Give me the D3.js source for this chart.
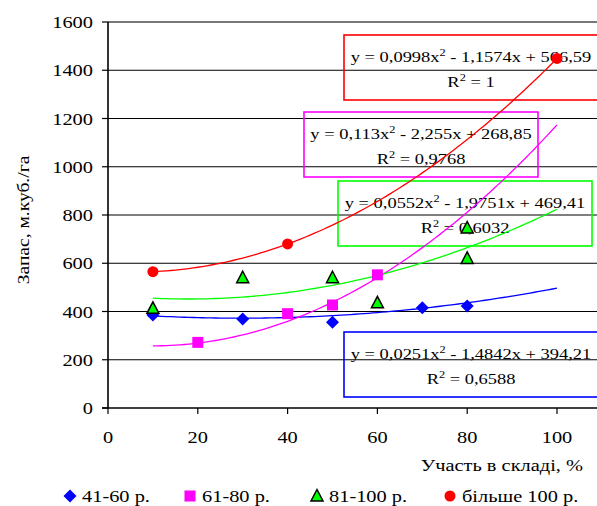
<!DOCTYPE html>
<html>
<head>
<meta charset="utf-8">
<script src="https://cdn.jsdelivr.net/npm/d3@7"></script>
<style>
  html, body { margin: 0; padding: 0; background: #fff; }
</style>
</head>
<body>
<svg id="chart" width="597" height="506" style="font-family: 'Liberation Serif', 'DejaVu Serif', serif;"></svg>
<script>
// Series: share in composition (%) vs growing stock (m³/ha), by age group
const seriesNames = ["41-60 р.", "61-80 р.", "81-100 р.", "більше 100 р."];
const seriesColors = ["#0000FF", "#FF00FF", "#00FF00", "#FF0000"];
const seriesShapes = ["diamond", "square", "triangle", "circle"];

const age41_60 = [[10, 385], [30, 369], [50, 355], [70, 416], [80, 423]];
const age61_80 = [[20, 272], [40, 391], [50, 427], [60, 552]];
const age81_100 = [[10, 413], [30, 540], [50, 540], [60, 436], [80, 620], [80, 746]];
const age100plus = [[10, 565], [40, 680], [100, 1449]];

// Quadratic trendline coefficients [a, b, c] for y = a·x² + b·x + c
const trendCoefs = [
  [0.0251, -1.4842, 394.21],
  [0.113, -2.255, 268.85],
  [0.0552, -1.9751, 469.41],
  [0.0998, -1.1574, 566.59]
];
const trendLabels = [
  ["0,0251", "1,4842", "394,21", "0,6588"],
  ["0,113", "2,255", "268,85", "0,9768"],
  ["0,0552", "1,9751", "469,41", "0,6032"],
  ["0,0998", "1,1574", "566,59", "1"]
];
const trendRange = [10, 100];

const xTicks = [0, 20, 40, 60, 80, 100];
const yTicks = [0, 200, 400, 600, 800, 1000, 1200, 1400, 1600];
const xTitle = "Участь в складі, %";
const yTitle = "Запас, м.куб./га";

const FONT = "'Liberation Serif', 'DejaVu Serif', serif";
const svg = d3.select("#chart");
const X0 = 108, X100 = 557, RIGHT = 597;
const x = d3.scaleLinear().domain([0, 100]).range([X0, X100]);
const y = d3.scaleLinear().domain([0, 1600]).range([408, 22]);
const SX = 1.2; // horizontal text stretch

function stext(g, tx, ty, str, size, anchor) {
  return g.append("text")
    .attr("transform", `translate(${tx},${ty}) scale(${SX},1)`)
    .attr("text-anchor", anchor || "start")
    .style("font-family", FONT)
    .style("font-size", size + "px")
    .text(str);
}

// gridlines
svg.append("g").selectAll("line").data(yTicks.filter(d => d > 0)).join("line")
  .attr("x1", X0).attr("x2", RIGHT)
  .attr("y1", d => y(d)).attr("y2", d => y(d))
  .attr("stroke", d => d === 1600 ? "#777" : "#000")
  .attr("stroke-width", d => d === 1600 ? 2 : 1.2);

// axes
const axG = svg.append("g");
axG.append("line").attr("x1", X0).attr("x2", X0).attr("y1", y(1600)).attr("y2", y(0))
  .attr("stroke", "#000").attr("stroke-width", 1.6);
axG.append("line").attr("x1", X0 - 6).attr("x2", RIGHT).attr("y1", y(0)).attr("y2", y(0))
  .attr("stroke", "#000").attr("stroke-width", 1.6);
axG.selectAll(".yt").data(yTicks).join("line")
  .attr("x1", X0 - 6).attr("x2", X0).attr("y1", d => y(d)).attr("y2", d => y(d))
  .attr("stroke", "#000").attr("stroke-width", 1.2);
axG.selectAll(".xt").data(xTicks).join("line")
  .attr("x1", d => x(d)).attr("x2", d => x(d)).attr("y1", y(0)).attr("y2", y(0) + 6)
  .attr("stroke", "#000").attr("stroke-width", 1.2);
yTicks.forEach(d => stext(axG, 93, y(d) + 6, String(d), 17, "end"));
xTicks.forEach(d => stext(axG, x(d), 443, String(d), 17, "middle"));

// axis titles
stext(svg, 583, 471, xTitle, 17, "end");
svg.append("text")
  .attr("transform", `translate(29,220) rotate(-90) scale(1.15,1)`)
  .attr("text-anchor", "middle").style("font-family", FONT).style("font-size", "17px").text(yTitle);

// trendline labels
const labelBoxes = [
  { x0: 344, y0: 332, x1: 604, y1: 397, cx: 471 },
  { x0: 304, y0: 112, x1: 538, y1: 177, cx: 421 },
  { x0: 338, y0: 181, x1: 592, y1: 246, cx: 465 },
  { x0: 344, y0: 35, x1: 604, y1: 100, cx: 471 }
];
const labG = svg.append("g");
labelBoxes.forEach((b, i) => {
  labG.append("rect").attr("x", b.x0).attr("y", b.y0)
    .attr("width", b.x1 - b.x0).attr("height", b.y1 - b.y0)
    .attr("fill", "none").attr("stroke", seriesColors[i]).attr("stroke-width", 1.6);
  const L = trendLabels[i];
  const t1 = labG.append("text")
    .attr("transform", `translate(${b.cx},${b.y0 + 27}) scale(1.23,1)`)
    .attr("text-anchor", "middle").style("font-family", FONT).style("font-size", "15px");
  t1.append("tspan").text(`y = ${L[0]}x`);
  t1.append("tspan").attr("dy", -6).style("font-size", "10px").text("2");
  t1.append("tspan").attr("dy", 6).text(` - ${L[1]}x + ${L[2]}`);
  const t2 = labG.append("text")
    .attr("transform", `translate(${b.cx},${b.y0 + 52}) scale(1.23,1)`)
    .attr("text-anchor", "middle").style("font-family", FONT).style("font-size", "15px");
  t2.append("tspan").text("R");
  t2.append("tspan").attr("dy", -6).style("font-size", "10px").text("2");
  t2.append("tspan").attr("dy", 6).text(` = ${L[3]}`);
});

// trendlines
const xs = d3.range(trendRange[0], trendRange[1] + 0.001, 1);
const line = d3.line().x(d => x(d[0])).y(d => y(d[1]));
trendCoefs.forEach((c, i) => {
  svg.append("path")
    .datum(xs.map(v => [v, c[0] * v * v + c[1] * v + c[2]]))
    .attr("d", line).attr("fill", "none")
    .attr("stroke", seriesColors[i]).attr("stroke-width", 1.3);
});

// markers
function marker(g, shape, color, cx, cy) {
  if (shape === "diamond") {
    g.append("path").attr("d", `M${cx},${cy - 6.5}L${cx + 6.5},${cy}L${cx},${cy + 6.5}L${cx - 6.5},${cy}Z`)
      .attr("fill", color);
  } else if (shape === "square") {
    g.append("rect").attr("x", cx - 5.5).attr("y", cy - 5.5).attr("width", 11).attr("height", 11)
      .attr("fill", color);
  } else if (shape === "triangle") {
    g.append("path").attr("d", `M${cx},${cy - 6.5}L${cx + 6},${cy + 5}L${cx - 6},${cy + 5}Z`)
      .attr("fill", color).attr("stroke", "#000").attr("stroke-width", 1.5);
  } else {
    g.append("circle").attr("cx", cx).attr("cy", cy).attr("r", 5.5).attr("fill", color);
  }
}
const allSeries = [age41_60, age61_80, age81_100, age100plus];
const mG = svg.append("g");
allSeries.forEach((s, i) => s.forEach(p => marker(mG, seriesShapes[i], seriesColors[i], x(p[0]), y(p[1]))));

// legend
const legX = [70, 190, 317, 450];
const lg = svg.append("g");
seriesNames.forEach((n, i) => {
  marker(lg, seriesShapes[i], seriesColors[i], legX[i], 496);
  stext(lg, legX[i] + 12, 502, n, 17, "start");
});
</script>
</body>
</html>
